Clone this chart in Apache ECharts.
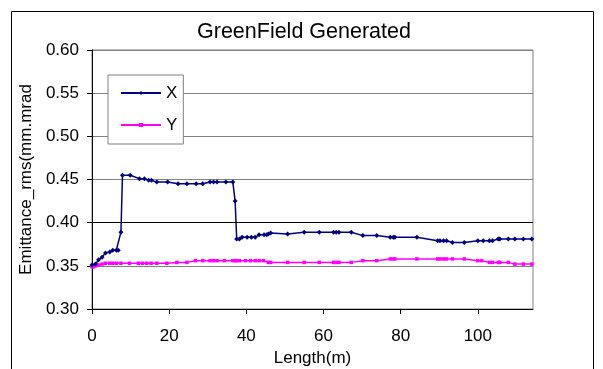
<!DOCTYPE html>
<html>
<head>
<meta charset="utf-8">
<script src="https://cdn.jsdelivr.net/npm/echarts@6/dist/echarts.min.js"></script>
<style>html,body{margin:0;padding:0;background:#fff;}#c{width:603px;height:369px;}</style>
</head>
<body>
<div id="c"></div>
<script>
const titleText = 'GreenField Generated';
const xAxisName = 'Length(m)';
const yAxisName = 'Emittance_rms(mm.mrad';
const xTicks = [0, 20, 40, 60, 80, 100];
const seriesNames = ['X', 'Y'];

const xLength = [0.0,0.9,1.7,2.6,3.5,4.6,5.4,6.3,6.8,7.5,7.9,9.9,12.3,13.6,14.7,15.4,16.8,19.6,22.3,24.6,27.0,28.7,30.6,31.5,32.4,34.7,36.5,37.1,37.5,38.2,38.9,40.2,41.3,42.3,43.3,44.6,45.3,45.7,46.3,50.7,55.0,58.9,62.6,63.3,64.0,67.2,70.2,73.8,77.3,78.1,78.5,84.2,89.6,90.2,91.1,91.9,93.4,96.5,100.0,101.4,103.0,103.8,105.3,105.7,107.9,109.6,111.8,114.0];
const xEmit = [0.351,0.352,0.357,0.360,0.365,0.366,0.368,0.368,0.368,0.389,0.455,0.455,0.451,0.451,0.449,0.449,0.447,0.447,0.445,0.445,0.445,0.445,0.447,0.447,0.447,0.447,0.447,0.425,0.381,0.381,0.383,0.383,0.383,0.383,0.386,0.386,0.386,0.387,0.388,0.387,0.389,0.389,0.389,0.389,0.389,0.389,0.385,0.385,0.383,0.383,0.383,0.383,0.379,0.379,0.379,0.379,0.377,0.377,0.379,0.379,0.379,0.379,0.381,0.381,0.381,0.381,0.381,0.381];

const yLength = [0.0,0.4,0.9,1.7,2.6,3.5,4.6,5.4,6.3,7.5,9.7,12.0,13.1,14.2,15.3,16.8,19.4,22.0,24.6,26.8,28.7,30.6,31.5,32.4,34.3,36.5,37.1,37.5,38.2,39.8,41.1,42.3,43.3,44.4,45.7,46.3,50.7,55.0,58.9,62.6,63.3,64.0,67.2,70.2,73.8,77.3,78.1,78.5,84.2,89.6,90.2,91.1,91.9,93.4,96.5,100.0,101.0,103.0,103.8,105.3,105.7,107.9,109.6,111.8,114.0];
const yEmit = [0.349,0.349,0.350,0.351,0.352,0.353,0.353,0.353,0.353,0.353,0.353,0.353,0.353,0.353,0.353,0.353,0.353,0.354,0.354,0.356,0.356,0.356,0.356,0.356,0.356,0.356,0.356,0.356,0.356,0.356,0.356,0.356,0.356,0.356,0.354,0.354,0.354,0.354,0.354,0.354,0.354,0.354,0.354,0.356,0.356,0.358,0.358,0.358,0.358,0.358,0.358,0.358,0.358,0.358,0.358,0.356,0.356,0.354,0.354,0.354,0.354,0.354,0.352,0.352,0.352];

const pairs = (xs, ys) => xs.map((x, i) => [x, ys[i]]);
const font = 'Liberation Sans, Arial, sans-serif';

const chart = echarts.init(document.getElementById('c'), null, {renderer: 'canvas'});
chart.setOption({
  animation: false,
  backgroundColor: '#fff',
  graphic: [{
    type: 'rect', left: 9, top: 9, silent: true, z: -10,
    shape: {width: 582, height: 380},
    style: {fill: 'none', stroke: '#000', lineWidth: 1}
  }],
  title: {
    text: titleText, left: 197, top: 21, padding: 0,
    textStyle: {fontFamily: font, fontSize: 21.5, fontWeight: 'normal', color: '#000'}
  },
  legend: {
    orient: 'vertical', left: 108, top: 75,
    padding: [8, 6, 9, 12], itemGap: 12,
    itemWidth: 40, itemHeight: 5,
    backgroundColor: '#fff', borderColor: '#808080', borderWidth: 1,
    textStyle: {fontFamily: font, fontSize: 17, color: '#000', lineHeight: 20},
    data: seriesNames
  },
  grid: {left: 92, right: 70, top: 50, bottom: 60, outerBoundsMode: 'none', containLabel: false,
    show: true, borderColor: '#808080', borderWidth: 1, backgroundColor: 'transparent'},
  xAxis: {
    type: 'value', min: 0, max: 114.3, interval: 20,
    name: xAxisName, nameLocation: 'middle', nameGap: 31,
    nameTextStyle: {fontFamily: font, fontSize: 17, color: '#000'},
    axisLine: {show: true, onZero: false, lineStyle: {color: '#000', width: 1}},
    axisTick: {show: true, length: 5, lineStyle: {color: '#000'}, customValues: xTicks},
    axisLabel: {fontFamily: font, fontSize: 17, color: '#000', margin: 19, customValues: xTicks},
    splitLine: {show: false}
  },
  yAxis: {
    type: 'value', min: 0.30, max: 0.60, interval: 0.05,
    name: yAxisName, nameLocation: 'middle', nameGap: 57,
    nameTextStyle: {fontFamily: font, fontSize: 17, color: '#000'},
    axisLine: {show: true, lineStyle: {color: '#000', width: 1}},
    axisTick: {show: true, length: 5, lineStyle: {color: '#000'}},
    axisLabel: {fontFamily: font, fontSize: 17, color: '#000', margin: 13, formatter: v => v.toFixed(2)},
    splitLine: {show: true, lineStyle: {color: '#808080', width: 1}}
  },
  series: [{
    name: seriesNames[0], type: 'line', data: pairs(xLength, xEmit),
    symbol: 'diamond', symbolSize: 5, showAllSymbol: true,
    itemStyle: {color: '#000080'}, lineStyle: {color: '#000080', width: 1.5},
    z: 3,
    markLine: {silent: true, symbol: 'none', label: {show: false},
      lineStyle: {color: '#000', width: 1, type: 'solid'}, data: [{yAxis: 0.40}]}
  }, {
    name: seriesNames[1], type: 'line', data: pairs(yLength, yEmit),
    symbol: 'rect', symbolSize: 3.5, showAllSymbol: true,
    itemStyle: {color: '#FF00FF'}, lineStyle: {color: '#FF00FF', width: 1.5},
    z: 2
  }]
});
</script>
</body>
</html>
